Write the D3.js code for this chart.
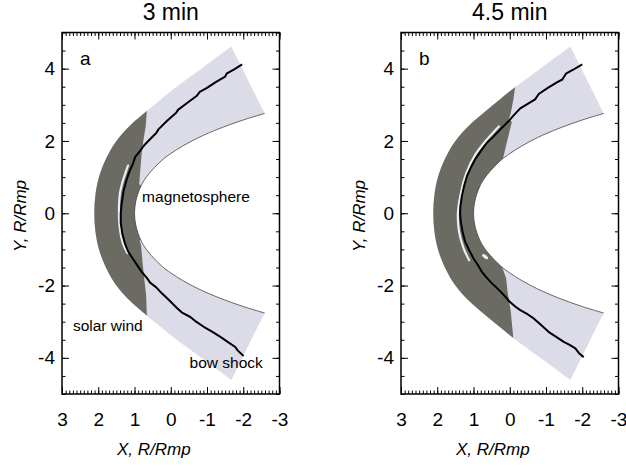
<!DOCTYPE html>
<html>
<head>
<meta charset="utf-8">
<script src="https://cdn.jsdelivr.net/npm/d3@7"></script>
<style>
  body { margin: 0; background: #fff; }
  text { font-family: "Liberation Sans", Arial, Helvetica, sans-serif; fill: #000; }
</style>
</head>
<body>
<div id="root"></div>
<script>
// tick labels and panel text
const xTickValues = [3, 2, 1, 0, -1, -2, -3];
const yTickValues = [-4, -2, 0, 2, 4];
const panelTitles = ["3 min", "4.5 min"];
const panelLetters = ["a", "b"];

// outer edge of the sheath, upper half, nose -> tail (lower half is the mirror)
const outerUpper = [[2.11, 0], [2.08, 0.5], [1.98, 1.0], [1.79, 1.5], [1.50, 2.0], [1.10, 2.45],
  [0.66, 2.83], [0.25, 3.17], [-0.15, 3.49], [-0.90, 4.04], [-1.67, 4.61]];
// magnetopause, upper half, nose -> tail
const innerUpper = [[1.0, 0], [0.97, 0.30], [0.91, 0.53], [0.80, 0.80], [0.62, 1.07], [0.26, 1.45],
  [0, 1.65], [-0.33, 1.86], [-0.76, 2.09], [-1.36, 2.35], [-2.0, 2.58], [-2.59, 2.76]];

// bow shock position, top -> bottom
const shockA = [[-1.97, 4.12], [-1.75, 3.98], [-1.55, 3.87], [-1.50, 3.78], [-1.23, 3.62], [-1.0, 3.47],
  [-0.80, 3.36], [-0.72, 3.25], [-0.45, 3.05], [-0.20, 2.86], [-0.15, 2.78], [0.10, 2.56], [0.34, 2.32],
  [0.40, 2.22], [0.60, 2.02], [0.75, 1.86], [0.85, 1.72], [0.98, 1.56], [1.05, 1.35], [1.13, 1.18],
  [1.22, 0.92], [1.30, 0.62], [1.35, 0.30], [1.38, 0], [1.38, -0.25], [1.34, -0.55], [1.26, -0.85],
  [1.18, -1.05], [1.05, -1.25], [0.95, -1.40], [0.80, -1.62], [0.65, -1.80], [0.57, -1.92], [0.40, -2.05],
  [0.29, -2.17], [0.05, -2.40], [-0.17, -2.62], [-0.30, -2.74], [-0.54, -2.87], [-0.70, -3.0],
  [-0.91, -3.14], [-1.15, -3.28], [-1.37, -3.42], [-1.60, -3.58], [-1.78, -3.70], [-1.85, -3.80], [-2.01, -3.95]];
const shockB = [[-2.0, 4.12], [-1.75, 3.97], [-1.55, 3.86], [-1.45, 3.70], [-1.30, 3.62], [-1.05, 3.47],
  [-0.80, 3.30], [-0.70, 3.15], [-0.45, 3.0], [-0.29, 2.90], [-0.10, 2.70], [0, 2.58], [0.10, 2.48],
  [0.26, 2.32], [0.45, 2.12], [0.63, 1.95], [0.80, 1.72], [0.95, 1.50], [1.08, 1.25], [1.18, 1.03],
  [1.26, 0.75], [1.32, 0.48], [1.36, 0.20], [1.37, 0], [1.35, -0.24], [1.30, -0.52], [1.23, -0.79],
  [1.12, -1.02], [1.0, -1.25], [0.88, -1.43], [0.77, -1.62], [0.62, -1.80], [0.49, -1.94], [0.30, -2.12],
  [0.12, -2.31], [0, -2.45], [-0.15, -2.58], [-0.29, -2.68], [-0.50, -2.80], [-0.66, -2.91], [-0.85, -3.08],
  [-1.07, -3.28], [-1.25, -3.40], [-1.49, -3.56], [-1.65, -3.64], [-1.81, -3.74], [-1.92, -3.88], [-2.04, -3.98]];

// right edge of the dark (disturbed) region, top -> bottom, closed towards the sun side
const darkA = [[0.60, 3.3], [0.66, 2.83], [0.69, 2.41], [0.75, 2.05], [0.80, 1.68], [0.84, 1.20], [0.87, 0.80],
  [0.40, 0.50], [0.40, -0.50], [0.86, -0.75], [0.82, -0.88], [0.78, -1.34], [0.73, -1.81], [0.68, -2.27],
  [0.66, -2.78], [0.60, -3.3], [3.5, -3.3], [3.5, 3.3]];
const darkB = [[-0.20, 3.9], [-0.15, 3.51], [-0.10, 3.15], [-0.03, 2.78], [0.03, 2.58], [-0.06, 2.53],
  [0.06, 2.05], [0.17, 1.58], [0.26, 1.31], [0.30, 1.10], [-0.2, 0.5], [-0.2, -0.5], [0.30, -1.15],
  [0.26, -1.34], [0.10, -1.80], [0.06, -2.17], [-0.03, -2.73], [-0.10, -3.47], [-0.15, -3.9], [3.5, -3.9], [3.5, 3.9]];

// thin light gap just outside the shock
const sliverA = [[1.18, 1.32], [1.32, 0.90], [1.40, 0.56], [1.43, 0.10], [1.41, -0.37], [1.33, -0.80], [1.20, -1.10]];
const sliverB = [[0.30, 2.40], [0.62, 2.05], [0.95, 1.62], [1.20, 1.10], [1.36, 0.50], [1.43, 0], [1.40, -0.50],
  [1.28, -0.95], [1.12, -1.30]];
// small light patch in panel b
const blobB = [[0.68, -1.20]];

const panels = [
  { left: 62, title: panelTitles[0], letter: panelLetters[0], shock: shockA, dark: darkA, sliver: sliverA, blob: [] },
  { left: 401, title: panelTitles[1], letter: panelLetters[1], shock: shockB, dark: darkB, sliver: sliverB, blob: blobB },
];

const W = 626, H = 467;
const plotTop = 32.5, plotBottom = 394, plotW = 217.5;
const darkColor = "#6b6b63", lightColor = "#dcdce8", gapColor = "#ececf3";

const svg = d3.select("#root").append("svg").attr("width", W).attr("height", H);
svg.append("rect").attr("width", W).attr("height", H).attr("fill", "#fff");

const mirror = (pts) => pts.map(([a, b]) => [a, -b]);
const plain = (d) => String(d); // hyphen minus, as in the original

panels.forEach((p, i) => {
  const x = d3.scaleLinear().domain([3, -3]).range([p.left, p.left + plotW]);
  const y = d3.scaleLinear().domain([-5, 5]).range([plotBottom, plotTop]);
  const g = svg.append("g");

  const smooth = d3.line().x((d) => x(d[0])).y((d) => y(d[1])).curve(d3.curveCatmullRom.alpha(0.5));
  const straight = d3.line().x((d) => x(d[0])).y((d) => y(d[1]));

  const outerFull = mirror(outerUpper.slice().reverse()).concat(outerUpper.slice(1));
  const innerFull = innerUpper.slice().reverse().concat(mirror(innerUpper.slice(1)));
  const band = smooth(outerFull) + smooth(innerFull).replace("M", "L") + "Z";

  g.append("clipPath").attr("id", "band" + i).append("path").attr("d", band);

  g.append("path").attr("d", band).attr("fill", lightColor);
  g.append("path").attr("d", straight(p.dark) + "Z").attr("fill", darkColor).attr("clip-path", `url(#band${i})`);

  g.append("path").attr("d", smooth(p.sliver)).attr("fill", "none").attr("stroke", gapColor)
    .attr("stroke-width", 2.2).attr("stroke-linecap", "round").attr("clip-path", `url(#band${i})`);

  g.selectAll(".blob").data(p.blob).join("ellipse")
    .attr("cx", (d) => x(d[0])).attr("cy", (d) => y(d[1]))
    .attr("rx", 3.5).attr("ry", 1.6)
    .attr("transform", (d) => `rotate(35,${x(d[0])},${y(d[1])})`)
    .attr("fill", gapColor);

  g.append("path").attr("d", smooth(innerFull)).attr("fill", "none").attr("stroke", "#444").attr("stroke-width", 0.8);

  g.append("path").attr("d", straight(p.shock)).attr("fill", "none").attr("stroke", "#000")
    .attr("stroke-width", 2).attr("stroke-linejoin", "round");

  // axes: major ticks labelled, minor ticks inward on all four sides
  const minorX = x.ticks(60), minorY = y.ticks(20);
  const addAxis = (axis, tr) => {
    const a = g.append("g").attr("transform", tr).call(axis);
    a.select(".domain").remove();
    a.selectAll("line").attr("stroke", "#000").attr("stroke-width", 1);
    return a;
  };
  addAxis(d3.axisBottom(x).tickValues(minorX).tickSize(-3.5).tickFormat(""), `translate(0,${plotBottom})`);
  addAxis(d3.axisTop(x).tickValues(minorX).tickSize(-3.5).tickFormat(""), `translate(0,${plotTop})`);
  addAxis(d3.axisTop(x).tickValues(xTickValues).tickSize(-7).tickFormat(""), `translate(0,${plotTop})`);
  addAxis(d3.axisLeft(y).tickValues(minorY).tickSize(-3.5).tickFormat(""), `translate(${p.left},0)`);
  addAxis(d3.axisRight(y).tickValues(minorY).tickSize(-3.5).tickFormat(""), `translate(${p.left + plotW},0)`);
  addAxis(d3.axisRight(y).tickValues(yTickValues).tickSize(-7).tickFormat(""), `translate(${p.left + plotW},0)`);

  const xa = addAxis(d3.axisBottom(x).tickValues(xTickValues).tickSize(-7).tickPadding(19).tickFormat(plain),
    `translate(0,${plotBottom})`);
  xa.selectAll("text").attr("font-size", 19).attr("font-family", null);
  const ya = addAxis(d3.axisLeft(y).tickValues(yTickValues).tickSize(-7).tickPadding(7).tickFormat(plain),
    `translate(${p.left},0)`);
  ya.selectAll("text").attr("font-size", 19).attr("font-family", null);

  g.append("rect").attr("x", p.left).attr("y", plotTop).attr("width", plotW).attr("height", plotBottom - plotTop)
    .attr("fill", "none").attr("stroke", "#000").attr("stroke-width", 1.5);

  g.append("text").attr("x", p.left + plotW / 2).attr("y", 20).attr("text-anchor", "middle")
    .attr("font-size", 23).text(p.title);
  g.append("text").attr("x", p.left + 18).attr("y", 65).attr("font-size", 19).text(p.letter);

  g.append("text").attr("x", p.left + plotW / 2 - 17).attr("y", 455).attr("text-anchor", "middle")
    .attr("font-size", 17).attr("font-style", "italic").text("X, R/Rmp");
  g.append("text").attr("transform", `translate(${p.left - 36},216) rotate(-90)`).attr("text-anchor", "middle")
    .attr("font-size", 17).attr("font-style", "italic").text("Y, R/Rmp");

  if (i === 0) {
    g.append("text").attr("x", x(0.79)).attr("y", y(0.32)).attr("font-size", 15.5).text("magnetosphere");
    g.append("text").attr("x", x(2.70)).attr("y", y(-3.27)).attr("font-size", 15.5).text("solar wind");
    g.append("text").attr("x", x(-0.52)).attr("y", y(-4.29)).attr("font-size", 15.5).text("bow shock");
  }
});
</script>
</body>
</html>
